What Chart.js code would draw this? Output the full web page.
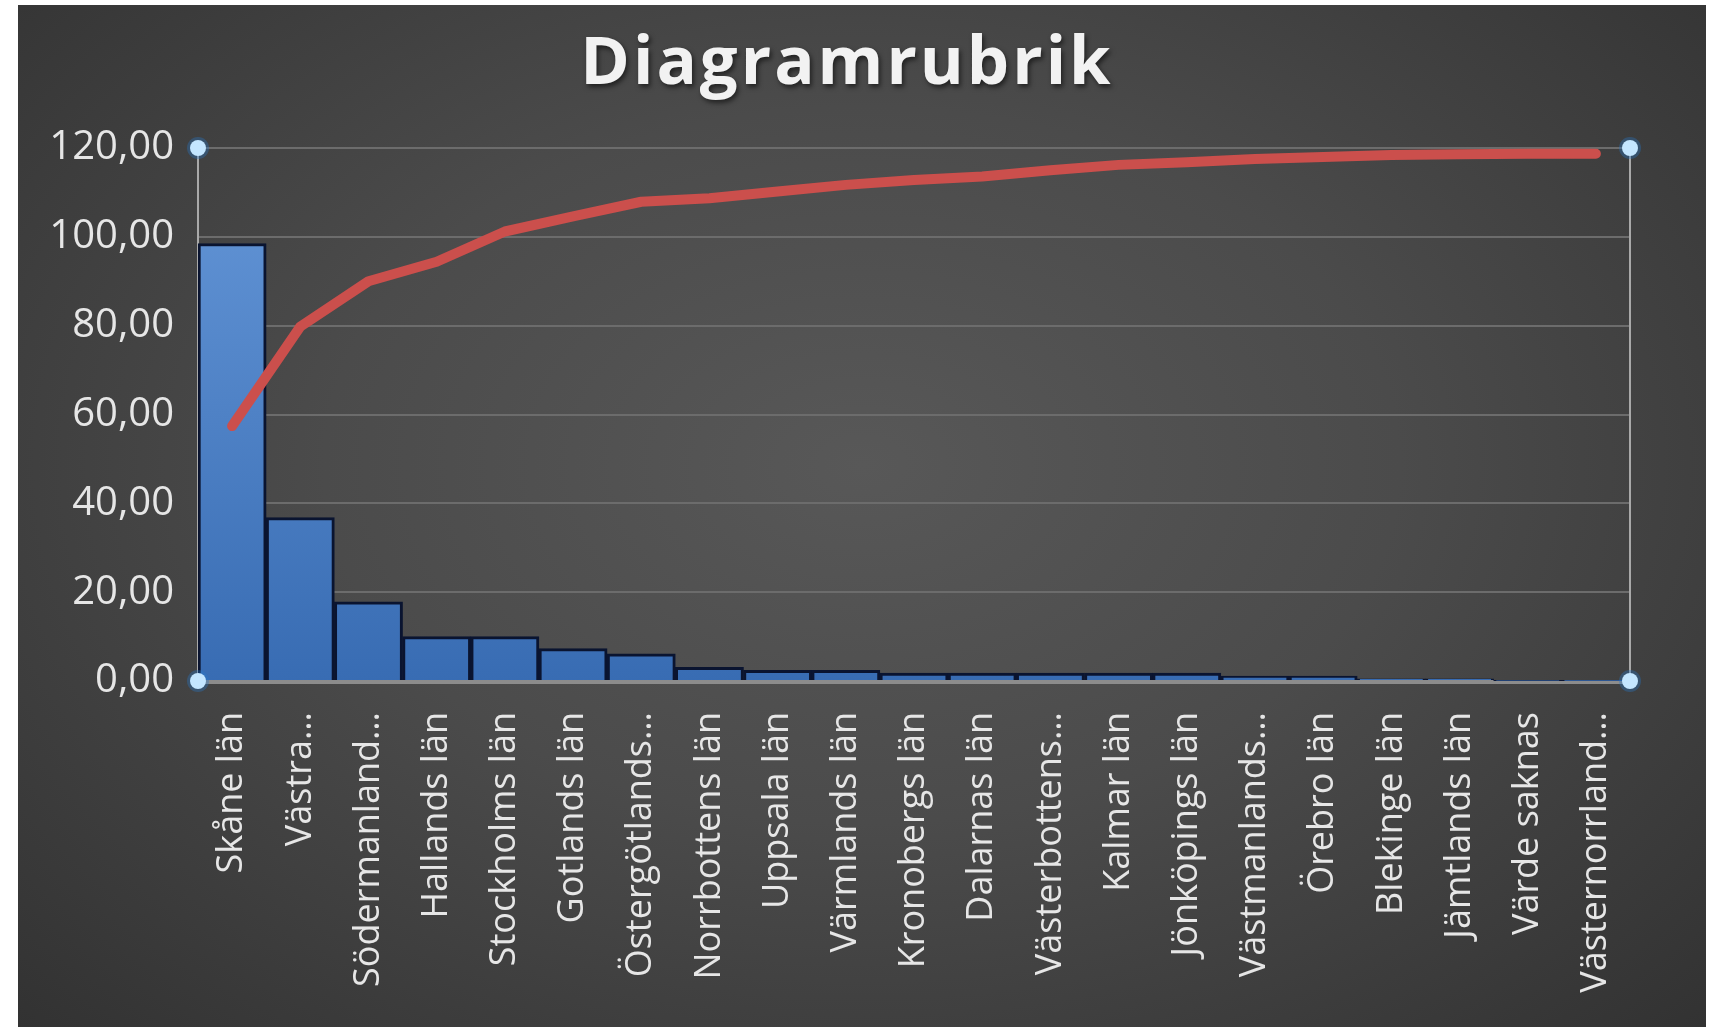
<!DOCTYPE html>
<html>
<head>
<meta charset="utf-8">
<script src="https://cdn.jsdelivr.net/npm/chart.js@4.4.1/dist/chart.umd.min.js"></script>
<style>
  html, body { margin: 0; padding: 0; background: #fff; }
  #wrap {
    position: absolute; left: 18px; top: 5px; width: 1688px; height: 1022px;
    background: radial-gradient(ellipse at 50% 45%, #585858 0%, #4b4b4b 45%, #323232 100%);
  }
  canvas { display: block; }
</style>
</head>
<body>
<div id="wrap"><canvas id="pareto"></canvas></div>
<script>
const lan = ['Skåne län', 'Västra…', 'Södermanland…', 'Hallands län', 'Stockholms län',
  'Gotlands län', 'Östergötlands…', 'Norrbottens län', 'Uppsala län', 'Värmlands län',
  'Kronobergs län', 'Dalarnas län', 'Västerbottens…', 'Kalmar län', 'Jönköpings län',
  'Västmanlands…', 'Örebro län', 'Blekinge län', 'Jämtlands län', 'Värde saknas',
  'Västernorrland…'];
const antal = [98.5, 36.8, 17.8, 10.0, 10.0, 7.3, 6.1, 3.1, 2.4, 2.4,
  1.8, 1.8, 1.8, 1.8, 1.8, 1.1, 1.1, 0.5, 0.5, 0.1, 0.05];
const kumulativ = [57.4, 79.8, 90.0, 94.4, 101.2, 104.6, 107.9, 108.7, 110.2, 111.7,
  112.8, 113.6, 115.0, 116.2, 116.8, 117.5, 118.0, 118.4, 118.6, 118.7, 118.7];
const yTicks = ['0,00', '20,00', '40,00', '60,00', '80,00', '100,00', '120,00'];
const rubrik = 'Diagramrubrik';

const FONT = '"Open Sans", sans-serif';

function barFill(context) {
  const area = context.chart.chartArea;
  if (!area) return '#4a7fc4';
  const g = context.chart.ctx.createLinearGradient(0, area.top, 0, area.bottom);
  g.addColorStop(0, '#6597d8');
  g.addColorStop(1, '#386cb3');
  return g;
}

// title drawn by hand so it can get letter spacing and a shadow
const titleText = {
  id: 'titleText',
  beforeDatasetsDraw(chart) {
    const ctx = chart.ctx;
    ctx.save();
    ctx.font = 'bold 67px ' + FONT;
    ctx.letterSpacing = '3px';
    ctx.textAlign = 'center';
    ctx.textBaseline = 'alphabetic';
    ctx.shadowColor = 'rgba(0,0,0,0.55)';
    ctx.shadowOffsetX = 2;
    ctx.shadowOffsetY = 3;
    ctx.shadowBlur = 5;
    ctx.fillStyle = '#f2f2f2';
    ctx.fillText(rubrik, 829, 79);
    ctx.restore();
  }
};

// light frame + blue handles round the plot area
const plotFrame = {
  id: 'plotFrame',
  beforeDatasetsDraw(chart) {
    const { ctx, chartArea: a } = chart;
    ctx.save();
    ctx.strokeStyle = '#a9a9a9';
    ctx.lineWidth = 2;
    ctx.beginPath();
    ctx.moveTo(a.left, a.top); ctx.lineTo(a.left, a.bottom);
    ctx.moveTo(a.right, a.top); ctx.lineTo(a.right, a.bottom);
    ctx.stroke();
    ctx.strokeStyle = '#8c8c8c';
    ctx.lineWidth = 4;
    ctx.beginPath();
    ctx.moveTo(a.left, a.bottom + 1); ctx.lineTo(a.right, a.bottom + 1);
    ctx.stroke();
    ctx.restore();
  },
  afterDraw(chart) {
    const { ctx, chartArea: a } = chart;
    ctx.save();
    [[a.left, a.top], [a.right, a.top], [a.left, a.bottom], [a.right, a.bottom]].forEach(([x, y]) => {
      ctx.beginPath();
      ctx.arc(x, y, 11, 0, Math.PI * 2);
      ctx.fillStyle = 'rgba(40,120,200,0.35)';
      ctx.fill();
      ctx.beginPath();
      ctx.arc(x, y, 8, 0, Math.PI * 2);
      ctx.fillStyle = '#c4e6ff';
      ctx.fill();
    });
    ctx.restore();
  }
};

new Chart(document.getElementById('pareto'), {
  data: {
    labels: lan,
    datasets: [
      {
        type: 'line',
        data: kumulativ,
        borderColor: '#cb4f4c',
        borderWidth: 10,
        borderCapStyle: 'round',
        borderJoinStyle: 'round',
        pointRadius: 0,
        tension: 0,
        order: 0
      },
      {
        type: 'bar',
        data: antal,
        backgroundColor: barFill,
        borderColor: '#0a1430',
        borderWidth: 3,
        borderSkipped: 'bottom',
        barPercentage: 1,
        categoryPercentage: 1,
        order: 1
      }
    ]
  },
  options: {
    responsive: true,
    maintainAspectRatio: false,
    animation: false,
    layout: { padding: { left: 0, right: 76, top: 143, bottom: 0 } },
    plugins: {
      legend: { display: false },
      tooltip: { enabled: false },
      title: { display: false }
    },
    scales: {
      x: {
        grid: { display: false },
        border: { display: false },
        ticks: {
          color: '#e6e6e6',
          font: { family: FONT, size: 36 },
          minRotation: 90,
          maxRotation: 90,
          autoSkip: false,
          padding: 23
        },
        afterFit(scale) { scale.height = 346; }
      },
      y: {
        min: 0,
        max: 120,
        grid: { color: '#6c6c6c', lineWidth: 2, drawTicks: false },
        border: { display: false },
        ticks: {
          stepSize: 20,
          color: '#e6e6e6',
          font: { family: FONT, size: 40 },
          padding: 24,
          callback: (v) => yTicks[v / 20]
        },
        afterFit(scale) { scale.width = 180; }
      }
    }
  },
  plugins: [titleText, plotFrame]
});
</script>
</body>
</html>
